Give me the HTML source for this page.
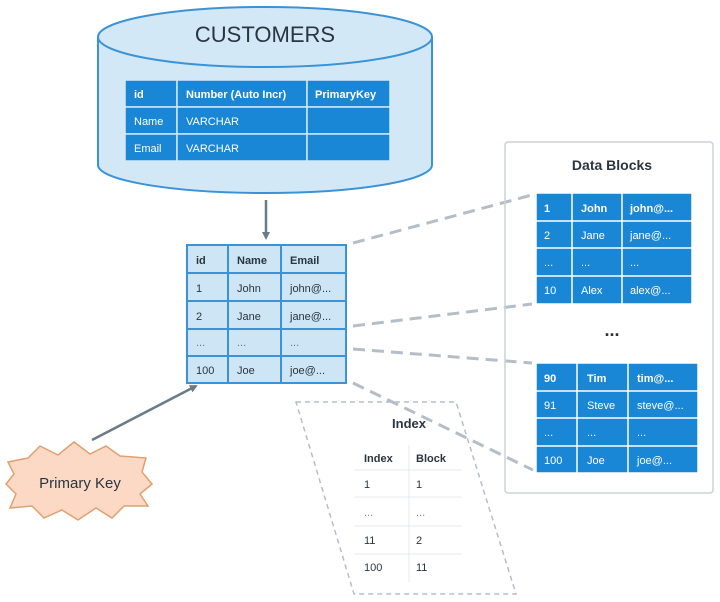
<!DOCTYPE html>
<html><head><style>body{margin:0;background:#fff}svg{display:block}text{font-family:"Liberation Sans",sans-serif}</style></head>
<body>
<svg width="720" height="602" viewBox="0 0 720 602" xmlns="http://www.w3.org/2000/svg">
<defs><marker id="ah" markerWidth="8" markerHeight="8" refX="6" refY="4" orient="auto" markerUnits="userSpaceOnUse"><path d="M0,0 L8,4 L0,8 Z" fill="#6b7b88"/></marker></defs>
<!-- cylinder -->
<path d="M98,37 L98,165 A167,28 0 0 0 432,165 L432,37" fill="#d3e8f7" stroke="#3a93d6" stroke-width="2"/>
<ellipse cx="265" cy="37" rx="167" ry="30" fill="#d3e8f7" stroke="#3a93d6" stroke-width="2"/>
<text x="265" y="42" font-size="22" text-anchor="middle" fill="#2a3540">CUSTOMERS</text>
<g fill="#1a86d6" stroke="#d3e8f7" stroke-width="1.5">
<rect x="125" y="80" width="52" height="27"/><rect x="177" y="80" width="130" height="27"/><rect x="307" y="80" width="83" height="27"/>
<rect x="125" y="107" width="52" height="27"/><rect x="177" y="107" width="130" height="27"/><rect x="307" y="107" width="83" height="27"/>
<rect x="125" y="134" width="52" height="27"/><rect x="177" y="134" width="130" height="27"/><rect x="307" y="134" width="83" height="27"/>
</g>
<g fill="#fff" font-size="11"><g font-weight="bold"><text x="134" y="98">id</text><text x="186" y="98">Number (Auto Incr)</text><text x="315" y="98">PrimaryKey</text></g>
<text x="134" y="125">Name</text><text x="186" y="125">VARCHAR</text><text x="134" y="152">Email</text><text x="186" y="152">VARCHAR</text></g>
<!-- arrow down -->
<line x1="266" y1="200" x2="266" y2="238" stroke="#6b7b88" stroke-width="2.5" marker-end="url(#ah)"/>
<!-- dashed connectors -->
<g stroke="#b5bec6" stroke-width="3" stroke-dasharray="12,7" fill="none">
<line x1="353" y1="243" x2="532" y2="195"/><line x1="353" y1="326" x2="532" y2="304"/>
<line x1="353" y1="349" x2="532" y2="363"/><line x1="353" y1="383" x2="533" y2="470"/>
</g>
<!-- middle table -->
<g fill="#cde5f5" stroke="#3a93d6" stroke-width="2">
<rect x="187" y="245" width="159" height="138"/>
<line x1="187" y1="273" x2="346" y2="273"/><line x1="187" y1="301" x2="346" y2="301"/><line x1="187" y1="329" x2="346" y2="329"/><line x1="187" y1="356" x2="346" y2="356"/>
<line x1="228" y1="245" x2="228" y2="383"/><line x1="281" y1="245" x2="281" y2="383"/>
</g>
<g fill="#2a3540" font-size="11"><g font-weight="bold"><text x="196" y="264">id</text><text x="237" y="264">Name</text><text x="290" y="264">Email</text></g>
<text x="196" y="292">1</text><text x="237" y="292">John</text><text x="290" y="292">john@...</text>
<text x="196" y="320">2</text><text x="237" y="320">Jane</text><text x="290" y="320">jane@...</text>
<text x="196" y="346" fill="#777">...</text><text x="237" y="346" fill="#777">...</text><text x="290" y="346" fill="#777">...</text>
<text x="196" y="374">100</text><text x="237" y="374">Joe</text><text x="290" y="374">joe@...</text></g>
<!-- data blocks -->
<rect x="505" y="142" width="208" height="351" rx="3" fill="none" stroke="#ccd2d8" stroke-width="1.5"/>
<text x="612" y="170" font-size="14" font-weight="bold" text-anchor="middle" fill="#2a3540">Data Blocks</text>
<g fill="#1a86d6" stroke="#fff" stroke-width="1.5">
<rect x="536" y="193" width="156" height="111"/>
<line x1="536" y1="221" x2="692" y2="221"/><line x1="536" y1="248" x2="692" y2="248"/><line x1="536" y1="276" x2="692" y2="276"/>
<line x1="572" y1="193" x2="572" y2="304"/><line x1="622" y1="193" x2="622" y2="304"/>
<rect x="536" y="363" width="162" height="110"/>
<line x1="536" y1="391" x2="698" y2="391"/><line x1="536" y1="418" x2="698" y2="418"/><line x1="536" y1="446" x2="698" y2="446"/>
<line x1="577" y1="363" x2="577" y2="473"/><line x1="628" y1="363" x2="628" y2="473"/>
</g>
<g fill="#fff" font-size="11"><g font-weight="bold"><text x="544" y="212">1</text><text x="581" y="212">John</text><text x="630" y="212">john@...</text></g>
<text x="544" y="239">2</text><text x="581" y="239">Jane</text><text x="630" y="239">jane@...</text>
<text x="544" y="266">...</text><text x="581" y="266">...</text><text x="630" y="266">...</text>
<text x="544" y="294">10</text><text x="581" y="294">Alex</text><text x="630" y="294">alex@...</text>
<g font-weight="bold"><text x="544" y="382">90</text><text x="587" y="382">Tim</text><text x="637" y="382">tim@...</text></g>
<text x="544" y="409">91</text><text x="587" y="409">Steve</text><text x="637" y="409">steve@...</text>
<text x="544" y="436">...</text><text x="587" y="436">...</text><text x="637" y="436">...</text>
<text x="544" y="464">100</text><text x="587" y="464">Joe</text><text x="637" y="464">joe@...</text></g>
<text x="612" y="336" font-size="18" font-weight="bold" text-anchor="middle" fill="#2a3540">...</text>
<!-- index -->
<polygon points="296,402 456,402 516,594 354,594" fill="none" stroke="#b5bec6" stroke-width="1.5" stroke-dasharray="5,4"/>
<text x="409" y="428" font-size="13" font-weight="bold" text-anchor="middle" fill="#2a3540">Index</text>
<g stroke="#e4e8ec" stroke-width="1"><line x1="354" y1="470" x2="462" y2="470"/><line x1="354" y1="497" x2="462" y2="497"/><line x1="354" y1="526" x2="462" y2="526"/><line x1="354" y1="554" x2="462" y2="554"/><line x1="409" y1="445" x2="409" y2="582"/></g>
<g fill="#2a3540" font-size="11"><g font-weight="bold"><text x="364" y="462">Index</text><text x="416" y="462">Block</text></g>
<text x="364" y="488">1</text><text x="416" y="488">1</text><text x="364" y="516" fill="#888">...</text><text x="416" y="516" fill="#888">...</text>
<text x="364" y="544">11</text><text x="416" y="544">2</text><text x="364" y="571">100</text><text x="416" y="571">11</text></g>
<!-- primary key -->
<line x1="92" y1="440" x2="196" y2="386" stroke="#6b7b88" stroke-width="2.5" marker-end="url(#ah)"/>
<polygon points="8,462 28,458 40,446 58,455 74,442 90,454 106,446 120,456 146,458 142,472 152,484 140,494 148,506 124,506 112,518 96,508 78,520 62,510 44,518 32,506 10,508 16,494 6,484 14,474" fill="#fbd9c4" stroke="#e0a070" stroke-width="1.5"/>
<text x="80" y="488" font-size="15" text-anchor="middle" fill="#2a3540">Primary Key</text>
</svg>
</body></html>
